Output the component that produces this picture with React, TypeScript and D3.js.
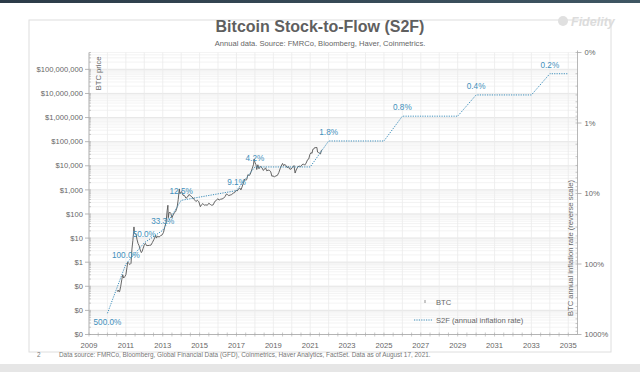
import React from 'react';
import * as d3 from 'd3';

// BTC price (decimal year, USD)
const btcYears = [
  2010.54, 2010.58, 2010.62, 2010.66, 2010.72, 2010.78, 2010.83, 2010.88, 2010.94,
  2011.0, 2011.06, 2011.1, 2011.15, 2011.22, 2011.28, 2011.33, 2011.38, 2011.42, 2011.44, 2011.46,
  2011.5, 2011.56, 2011.6, 2011.66, 2011.72, 2011.78, 2011.84, 2011.88, 2011.94,
  2012.0, 2012.06, 2012.12, 2012.2, 2012.28, 2012.36, 2012.44, 2012.52, 2012.58, 2012.62, 2012.66,
  2012.72, 2012.8, 2012.88, 2012.96,
  2013.04, 2013.1, 2013.18, 2013.24, 2013.28, 2013.3, 2013.34, 2013.38, 2013.44, 2013.5, 2013.56,
  2013.62, 2013.7, 2013.78, 2013.84, 2013.9, 2013.93, 2013.96,
  2014.02, 2014.1, 2014.18, 2014.26, 2014.34, 2014.42, 2014.5, 2014.58, 2014.66, 2014.72, 2014.8,
  2014.88, 2014.96,
  2015.04, 2015.1, 2015.18, 2015.26, 2015.34, 2015.42, 2015.5, 2015.58, 2015.66, 2015.74, 2015.82,
  2015.9, 2015.98,
  2016.06, 2016.14, 2016.22, 2016.3, 2016.38, 2016.46, 2016.5, 2016.58, 2016.66, 2016.74, 2016.82,
  2016.9, 2016.98,
  2017.04, 2017.1, 2017.18, 2017.24, 2017.3, 2017.38, 2017.44, 2017.5, 2017.56, 2017.62, 2017.68,
  2017.74, 2017.8, 2017.86, 2017.92, 2017.96,
  2018.0, 2018.06, 2018.1, 2018.16, 2018.22, 2018.3, 2018.38, 2018.46, 2018.52, 2018.58, 2018.64,
  2018.72, 2018.8, 2018.86, 2018.92, 2018.98,
  2019.06, 2019.14, 2019.22, 2019.3, 2019.38, 2019.46, 2019.5, 2019.56, 2019.62, 2019.7, 2019.76,
  2019.82, 2019.88, 2019.96,
  2020.04, 2020.12, 2020.18, 2020.24, 2020.32, 2020.4, 2020.48, 2020.56, 2020.64, 2020.7, 2020.78,
  2020.86, 2020.92, 2020.98,
  2021.04, 2021.1, 2021.14, 2021.2, 2021.26, 2021.3, 2021.36, 2021.4, 2021.46, 2021.52, 2021.56,
  2021.6, 2021.63,
];
const btcPrices = [
  0.06, 0.07, 0.06, 0.06, 0.1, 0.19, 0.3, 0.22, 0.25,
  0.3, 0.6, 1.0, 0.9, 0.8, 0.9, 3.5, 8, 18, 29, 17,
  15, 14, 9, 6, 4.8, 3.2, 2.5, 2.8, 3.8,
  5.3, 6.0, 4.9, 4.9, 5.0, 5.1, 6.6, 8.7, 11, 13, 10,
  12, 11, 12.5, 13.4,
  17, 27, 45, 140, 230, 70, 110, 120, 105, 70, 90,
  110, 125, 190, 400, 1100, 700, 750,
  850, 600, 580, 450, 500, 640, 590, 500, 460, 390, 330,
  370, 320,
  200, 240, 270, 230, 240, 230, 280, 250, 230, 240, 330,
  360, 430,
  380, 410, 420, 450, 530, 680, 650, 580, 610, 640, 730,
  770, 960,
  900, 1050, 1200, 1000, 1300, 2000, 2800, 2500, 2700, 4300, 3900,
  4300, 5900, 8000, 11000, 19000,
  14000, 11000, 7000, 11000, 7500, 9300, 8300, 6400, 7300, 8200, 6200,
  6600, 6400, 5600, 3700, 3800,
  3500, 3800, 4000, 5300, 8000, 11000, 12500, 10000, 11500, 9800, 8200,
  9300, 7400, 7200,
  8700, 10200, 5000, 6700, 8800, 9700, 9200, 11200, 11800, 10600, 13000,
  18000, 19000, 29000,
  35000, 33000, 48000, 50000, 59000, 56000, 58000, 37000, 35000, 33000, 31000,
  42000, 46000,
];

// S2F annual inflation rate (%), right axis (reverse log)
const s2fYears = [2010, 2011, 2012, 2013, 2014, 2017, 2018, 2021, 2022, 2025, 2026, 2029, 2030, 2033, 2034, 2035];
const s2fRates = [500, 100, 50, 33.3, 12.5, 9.1, 4.2, 4.2, 1.8, 1.8, 0.8, 0.8, 0.4, 0.4, 0.2, 0.2];
const s2fLabelYears = [2010, 2011, 2012, 2013, 2014, 2017, 2018, 2022, 2026, 2030, 2034];

const priceTicks = [0.001, 0.01, 0.1, 1, 10, 100, 1000, 1e4, 1e5, 1e6, 1e7, 1e8];
const rateTicks = [0.1, 1, 10, 100, 1000];
const yearTicks = d3.range(2009, 2036, 2);

const W = 640;
const H = 372;
const PL = 89;
const PR = 577.5;
const PT = 52.5;
const PB = 334.5;

const FONT = "'Liberation Sans', Arial, sans-serif";
const TEAL = '#3f8fbb';
const AXIS = '#a6a6a6';
const TXT = '#666';

export default function App() {
  const x = d3.scaleLinear().domain([2009, 2035.5]).range([PL, PR]);
  const yL = d3.scaleLog().domain([0.001, Math.pow(10, 8.7)]).range([PB, PT]);
  const yR = d3.scaleLog().domain([1000, 0.1]).range([PB, PT]);

  const priceFmt = d3.format('$,.0f');
  const rateFmt = (v: number) => d3.format('.0f')(v) + '%';
  const labelFmt = (v: number) => d3.format('.1f')(v) + '%';

  const priceMinor = yL.ticks(40);
  const rateMinor = yR.ticks(40);
  const yearGrid = d3.range(2009, 2036, 1);
  const xMinor = d3.range(2009, 2035.01, 0.5);

  const pricePath = d3.line<number>()
    .x((_, i) => x(btcYears[i]))
    .y(d => yL(d))(btcPrices);

  const s2fPath = d3.line<number>()
    .x((_, i) => x(s2fYears[i]))
    .y(d => yR(d))(s2fRates);

  return (
    <svg width={W} height={H} style={{ position: 'absolute', left: 0, top: 0, background: '#fff' }} fontFamily={FONT}>
      <defs>
        <linearGradient id="topband" x1="0" x2="1" y1="0" y2="0">
          <stop offset="0" stopColor="#2c3b48" />
          <stop offset="1" stopColor="#3f5663" />
        </linearGradient>
      </defs>
      <rect x={0} y={0} width={W} height={H} fill="#fff" />
      <rect x={0} y={0} width={W} height={3} fill="url(#topband)" />
      <rect x={0} y={364} width={W} height={8} fill="#e6e6e6" />

      {/* slide frame */}
      <rect x={29} y={20} width={582} height={332} fill="#fff" stroke="#dedede" strokeWidth={1} />

      {/* faded logo */}
      <circle cx={563} cy={21} r={5} fill="#e0e0e0" />
      <text x={571} y={25.5} fontSize={12.5} fontWeight="bold" fontStyle="italic" fill="#dcdcdc">Fidelity</text>

      {/* title */}
      <text x={320} y={32} textAnchor="middle" fontSize={16} fontWeight="bold" fill="#5f5f5f">Bitcoin Stock-to-Flow (S2F)</text>
      <text x={320} y={46} textAnchor="middle" fontSize={7.6} fill={TXT}>Annual data.  Source: FMRCo, Bloomberg, Haver, Coinmetrics.</text>

      {/* grid */}
      <g>
        {priceMinor.map((v, i) => (
          <line key={'hg' + i} x1={PL} x2={PR} y1={yL(v)} y2={yL(v)} stroke="#f0f0f0" strokeWidth={0.8} />
        ))}
        {priceTicks.map((v, i) => (
          <line key={'hm' + i} x1={PL} x2={PR} y1={yL(v)} y2={yL(v)} stroke="#e4e4e4" strokeWidth={0.8} />
        ))}
        {yearGrid.map((v, i) => (
          <line key={'vg' + i} x1={x(v)} x2={x(v)} y1={PT} y2={PB} stroke="#ebebeb" strokeWidth={0.8} />
        ))}
      </g>

      {/* left axis */}
      <g>
        <line x1={PL} x2={PL} y1={PT} y2={PB} stroke={AXIS} strokeWidth={0.8} />
        {priceMinor.map((v, i) => (
          <line key={'lmt' + i} x1={PL} x2={PL + 2} y1={yL(v)} y2={yL(v)} stroke={AXIS} strokeWidth={0.6} />
        ))}
        {priceTicks.map((v, i) => (
          <g key={'lt' + i}>
            <line x1={PL - 4} x2={PL} y1={yL(v)} y2={yL(v)} stroke={AXIS} strokeWidth={0.8} />
            <text x={PL - 6} y={yL(v) + 2.7} textAnchor="end" fontSize={7.6} fill={TXT}>{priceFmt(v)}</text>
          </g>
        ))}
        <text transform={`translate(${PL + 12},${PT + 4}) rotate(-90)`} textAnchor="end" fontSize={7.6} fill={TXT}>BTC price</text>
      </g>

      {/* right axis */}
      <g>
        <line x1={PR} x2={PR} y1={PT - 2} y2={PB} stroke={AXIS} strokeWidth={0.8} />
        {rateMinor.map((v, i) => (
          <line key={'rmt' + i} x1={PR - 2} x2={PR} y1={yR(v)} y2={yR(v)} stroke={AXIS} strokeWidth={0.6} />
        ))}
        {rateTicks.map((v, i) => (
          <g key={'rt' + i}>
            <line x1={PR} x2={PR + 4} y1={yR(v)} y2={yR(v)} stroke={AXIS} strokeWidth={0.8} />
            <text x={PR + 7} y={yR(v) + 2.7} fontSize={7.6} fill={TXT}>{rateFmt(v)}</text>
          </g>
        ))}
        <text transform={`translate(${PR - 5},248) rotate(-90)`} textAnchor="middle" fontSize={7.6} fill={TXT}>BTC annual inflation rate (reverse scale)</text>
      </g>

      {/* bottom axis */}
      <g>
        <line x1={PL} x2={PR} y1={PB} y2={PB} stroke={AXIS} strokeWidth={0.8} />
        {xMinor.map((v, i) => (
          <line key={'xt' + i} x1={x(v)} x2={x(v)} y1={PB - 2} y2={PB + 2} stroke={AXIS} strokeWidth={0.6} />
        ))}
        {yearTicks.map((v, i) => (
          <text key={'xl' + i} x={x(v)} y={PB + 13} textAnchor="middle" fontSize={7.6} fill={TXT}>{v}</text>
        ))}
      </g>

      {/* series */}
      <path d={pricePath || ''} fill="none" stroke="#555" strokeWidth={0.9} strokeLinejoin="round" />
      <path d={s2fPath || ''} fill="none" stroke={TEAL} strokeWidth={1} strokeDasharray="1.2,1.2" />
      {s2fLabelYears.map((yr, i) => {
        const v = s2fRates[s2fYears.indexOf(yr)];
        const below = i === 0;
        return (
          <text key={'sl' + i} x={x(yr)} y={yR(v) + (below ? 12 : -6)} textAnchor="middle" fontSize={8.2} fill={TEAL}>
            {labelFmt(v)}
          </text>
        );
      })}

      {/* legend */}
      <g fontSize={7.6} fill={TXT}>
        <line x1={425} x2={425} y1={300} y2={303} stroke="#777" strokeWidth={0.8} />
        <text x={436} y={305}>BTC</text>
        <line x1={414} x2={433} y1={320} y2={320} stroke={TEAL} strokeWidth={1} strokeDasharray="1.2,1.2" />
        <text x={436} y={323}>S2F (annual inflation rate)</text>
      </g>

      {/* footer */}
      <text x={37} y={357} fontSize={6.4} fill="#777">2</text>
      <text x={59} y={357} fontSize={6.4} fill="#777">Data source: FMRCo, Bloomberg, Global Financial Data (GFD), Coinmetrics, Haver Analytics, FactSet.  Data as of August 17, 2021.</text>
    </svg>
  );
}
